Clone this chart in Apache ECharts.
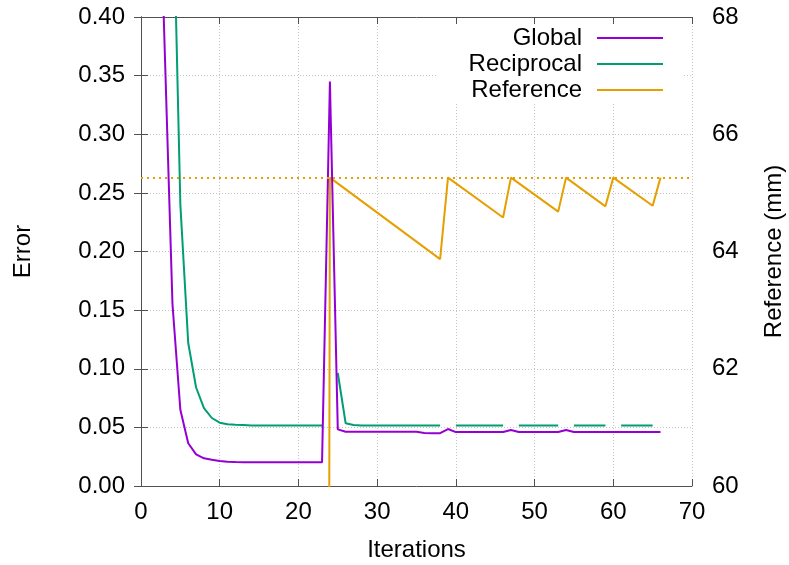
<!DOCTYPE html>
<html>
<head>
<meta charset="utf-8">
<script src="https://cdn.jsdelivr.net/npm/echarts@6/dist/echarts.min.js"></script>
<style>
  html, body { margin: 0; padding: 0; background: #fff; }
  #chart { width: 789px; height: 565px; }
</style>
</head>
<body>
<div id="chart"></div>
<script>
// iteration numbers shared by the two error curves
const iters = [2, 3, 4, 5, 6, 7, 8, 9, 10, 11, 12, 13, 14, 15, 16, 17, 18, 19, 20, 21, 22, 23,
  24, 25, 26, 27, 28, 29, 30, 31, 32, 33, 34, 35, 36, 37, 38, 39, 40, 41, 42, 43, 44, 45,
  46, 47, 48, 49, 50, 51, 52, 53, 54, 55, 56, 57, 58, 59, 60, 61, 62, 63, 64, 65, 66];

const globalErr = [0.60, 0.375, 0.155, 0.065, 0.0365, 0.027, 0.0236, 0.0224, 0.0213, 0.0206, 0.0204, 0.0203,
  0.0203, 0.0203, 0.0203, 0.0203, 0.0203, 0.0203, 0.0203, 0.0203, 0.0203, 0.0203,
  0.345, 0.0483, 0.0463,
  0.0462, 0.0462, 0.0462, 0.0462, 0.0462, 0.0462, 0.0462, 0.0462, 0.0462,
  0.0452, 0.045, 0.045, 0.0486,
  0.046, 0.046, 0.046, 0.046, 0.046, 0.046, 0.046, 0.0478,
  0.046, 0.046, 0.046, 0.046, 0.046, 0.046, 0.0478,
  0.046, 0.046, 0.046, 0.046, 0.046, 0.046, 0.046, 0.046, 0.046, 0.046, 0.046, 0.046];

const reciprocalErr = [1.3, 0.9, 0.53, 0.24, 0.122, 0.084, 0.0665, 0.058, 0.054, 0.0527, 0.0522, 0.052,
  0.0517, 0.0517, 0.0517, 0.0517, 0.0517, 0.0517, 0.0517, 0.0517, 0.0517, 0.0517,
  null, 0.0964, 0.0535, 0.052,
  0.0515, 0.0515, 0.0515, 0.0515, 0.0515, 0.0515, 0.0515, 0.0515, 0.0515, 0.0515, 0.0515,
  null, 0.0515, 0.0515, 0.0515, 0.0515, 0.0515, 0.0515, 0.0515,
  null, 0.0515, 0.0515, 0.0515, 0.0515, 0.0515, 0.0515,
  null, 0.0515, 0.0515, 0.0515, 0.0515, 0.0515,
  null, 0.0515, 0.0515, 0.0515, 0.0515, 0.0515, null];

// reference length (mm), right axis
const refIters = [23, 24, 38, 39, 46, 47, 53, 54, 59, 60, 65, 66];
const refValues = [0, 65.26, 63.87, 65.26, 64.58, 65.26, 64.68, 65.26, 64.77, 65.26, 64.78, 65.26];
const refLevel = 65.26;

const FONT = 'Liberation Sans';
const FS = 24;
const BORDER = '#505050';
const GRID = '#c4c4c4';

const zip = (xs, ys) => xs.map((x, i) => [x, ys[i]]);

const chart = echarts.init(document.getElementById('chart'), null, { renderer: 'canvas' });

chart.setOption({
  animation: false,
  backgroundColor: '#fff',
  textStyle: { fontFamily: FONT },
  grid: { left: 141, right: 97, top: 17, bottom: 79, outerBoundsMode: 'none', containLabel: false },
  legend: {
    orient: 'vertical',
    align: 'right',
    right: 121,
    top: 21,
    itemWidth: 66,
    itemHeight: 2,
    itemGap: 2,
    icon: 'rect',
    textStyle: { fontSize: FS, color: '#000', fontFamily: FONT, padding: [0, 10, 0, 0] },
    data: ['Global', 'Reciprocal', 'Reference']
  },
  graphic: [{
    type: 'rect',
    z: 1,
    shape: { x: 437, y: 25, width: 247, height: 78 },
    style: { fill: '#fff' },
    silent: true
  }],
  xAxis: [{
    type: 'value',
    min: 0, max: 70, interval: 10,
    name: 'Iterations',
    nameLocation: 'middle',
    nameGap: 52,
    nameTextStyle: { fontSize: FS, color: '#000', fontFamily: FONT },
    axisLine: { show: true, lineStyle: { color: BORDER, width: 1 } },
    axisTick: { show: true, inside: true, length: 7, lineStyle: { color: BORDER } },
    axisLabel: { fontSize: FS, color: '#000', margin: 14, fontFamily: FONT },
    splitLine: { show: true, lineStyle: { color: GRID, type: [1, 2], width: 1 } }
  }, {
    type: 'value',
    position: 'top',
    min: 0, max: 70, interval: 10,
    axisLine: { show: true, lineStyle: { color: BORDER, width: 1 } },
    axisTick: { show: true, inside: true, length: 7, lineStyle: { color: BORDER } },
    axisLabel: { show: false },
    splitLine: { show: false }
  }],
  yAxis: [{
    type: 'value',
    min: 0, max: 0.4, interval: 0.05,
    name: 'Error',
    nameLocation: 'middle',
    nameGap: 106,
    nameRotate: 90,
    nameTextStyle: { fontSize: FS, color: '#000', fontFamily: FONT },
    axisLine: { show: true, lineStyle: { color: BORDER, width: 1 } },
    axisTick: { show: true, inside: true, length: 7, lineStyle: { color: BORDER } },
    axisLabel: { fontSize: FS, color: '#000', margin: 16, fontFamily: FONT, formatter: v => v.toFixed(2) },
    splitLine: { show: true, lineStyle: { color: GRID, type: [1, 2], width: 1 } }
  }, {
    type: 'value',
    position: 'right',
    min: 60, max: 68, interval: 1,
    name: 'Reference (mm)',
    nameLocation: 'middle',
    nameGap: 70,
    nameRotate: 90,
    nameTextStyle: { fontSize: FS, color: '#000', fontFamily: FONT },
    axisLine: { show: true, lineStyle: { color: BORDER, width: 1 } },
    axisTick: { show: true, inside: true, length: 7, lineStyle: { color: BORDER } },
    axisLabel: { fontSize: FS, color: '#000', margin: 20, fontFamily: FONT, formatter: v => (v % 2 === 0 ? String(v) : '') },
    splitLine: { show: false }
  }],
  series: [{
    name: 'Global',
    type: 'line',
    xAxisIndex: 0, yAxisIndex: 0,
    data: zip(iters, globalErr),
    showSymbol: false, symbol: 'none',
    lineStyle: { color: '#9400d3', width: 2 },
    itemStyle: { color: '#9400d3' },
    z: 3
  }, {
    name: 'Reciprocal',
    type: 'line',
    xAxisIndex: 0, yAxisIndex: 0,
    data: zip(iters, reciprocalErr),
    showSymbol: false, symbol: 'none',
    connectNulls: false,
    lineStyle: { color: '#009e73', width: 2 },
    itemStyle: { color: '#009e73' },
    z: 2
  }, {
    name: 'Reference',
    type: 'line',
    xAxisIndex: 0, yAxisIndex: 1,
    data: zip(refIters, refValues),
    showSymbol: false, symbol: 'none',
    lineStyle: { color: '#e69f00', width: 2 },
    itemStyle: { color: '#e69f00' },
    z: 2,
    markLine: {
      silent: true,
      symbol: 'none',
      label: { show: false },
      lineStyle: { color: '#e69f00', type: [2, 4], width: 2 },
      data: [{ yAxis: refLevel }]
    }
  }]
});
</script>
</body>
</html>
